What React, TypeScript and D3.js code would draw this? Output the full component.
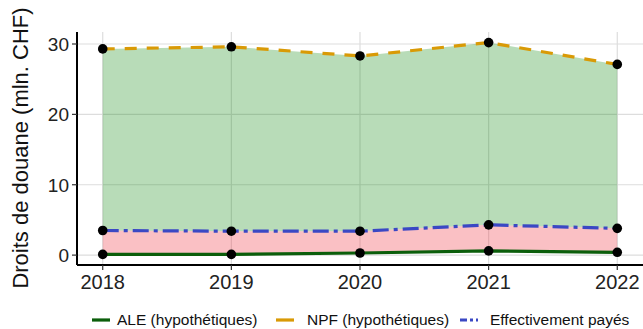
import React from "react";
import * as d3 from "d3";

const years = [2018, 2019, 2020, 2021, 2022];
const ale = [0.1, 0.1, 0.3, 0.6, 0.4];
const npf = [29.3, 29.6, 28.3, 30.2, 27.1];
const paid = [3.5, 3.4, 3.4, 4.3, 3.8];
const yTicks = [0, 10, 20, 30];
const legendLabels = ["ALE (hypothétiques)", "NPF (hypothétiques)", "Effectivement payés"];

const W = 643;
const H = 329;
const FONT = "'Liberation Sans', Arial, sans-serif";

export default function App() {
  const left = 77;
  const right = 643;
  const top = 32;
  const bottom = 265;

  const x = d3.scaleLinear().domain([2017.8, 2022.2]).range([left, right]);
  const yMin = d3.min(ale)!;
  const yMax = d3.max(npf)!;
  const pad = (yMax - yMin) * 0.05;
  const y = d3.scaleLinear().domain([yMin - pad, yMax + pad]).range([bottom, top]);

  const idx = years.map((_, i) => i);
  const areaGreen = d3
    .area<number>()
    .x((i) => x(years[i]))
    .y0((i) => y(paid[i]))
    .y1((i) => y(npf[i]))(idx)!;
  const areaPink = d3
    .area<number>()
    .x((i) => x(years[i]))
    .y0((i) => y(ale[i]))
    .y1((i) => y(paid[i]))(idx)!;
  const line = (vals: number[]) =>
    d3
      .line<number>()
      .x((i) => x(years[i]))
      .y((i) => y(vals[i]))(idx)!;

  const series = [
    { vals: ale, color: "#0b5e0b", dash: "none" },
    { vals: npf, color: "#d99a06", dash: "12 10" },
    { vals: paid, color: "#3a48c4", dash: "16 5 4 5" },
  ];

  const legendItems = [
    { sx: 92, tx: 117, color: "#0b5e0b", dash: "none" },
    { sx: 276, tx: 307, color: "#d99a06", dash: "none" },
    { sx: 460, tx: 490, color: "#3a48c4", dash: "7 3 3 3" },
  ];

  return (
    <svg width={W} height={H} style={{ position: "absolute", left: 0, top: 0, background: "#fff" }}>
      {years.map((yr) => (
        <line key={"gx" + yr} x1={x(yr)} x2={x(yr)} y1={top} y2={bottom} stroke="#dddddd" strokeWidth={1.2} />
      ))}
      {yTicks.map((t) => (
        <line key={"gy" + t} x1={left} x2={right} y1={y(t)} y2={y(t)} stroke="#dddddd" strokeWidth={1.2} />
      ))}
      <path d={areaGreen} fill="rgb(0,128,0)" fillOpacity={0.28} />
      <path d={areaPink} fill="rgb(240,60,70)" fillOpacity={0.32} />
      {series.map((s, k) => (
        <path key={"l" + k} d={line(s.vals)} fill="none" stroke={s.color} strokeWidth={3.2} strokeDasharray={s.dash} />
      ))}
      {series.map((s, k) =>
        s.vals.map((v, i) => <circle key={"p" + k + i} cx={x(years[i])} cy={y(v)} r={4.8} fill="#000" />)
      )}
      <line x1={left} x2={left} y1={top} y2={bottom} stroke="#000" strokeWidth={2} />
      <line x1={left} x2={right} y1={bottom} y2={bottom} stroke="#000" strokeWidth={2} />
      {yTicks.map((t) => (
        <g key={"yt" + t}>
          <line x1={left - 5} x2={left} y1={y(t)} y2={y(t)} stroke="#333" strokeWidth={1.2} />
          <text x={left - 8} y={y(t)} dy="0.36em" textAnchor="end" fontFamily={FONT} fontSize={19} fill="#222">
            {t}
          </text>
        </g>
      ))}
      {years.map((yr) => (
        <g key={"xt" + yr}>
          <line x1={x(yr)} x2={x(yr)} y1={bottom} y2={bottom + 5} stroke="#333" strokeWidth={1.2} />
          <text x={x(yr)} y={bottom + 24} textAnchor="middle" fontFamily={FONT} fontSize={20} fill="#222">
            {yr}
          </text>
        </g>
      ))}
      <text
        transform={`translate(28,148) rotate(-90)`}
        textAnchor="middle"
        fontFamily={FONT}
        fontSize={22}
        fill="#111"
      >
        Droits de douane (mln. CHF)
      </text>
      {legendItems.map((it, k) => (
        <g key={"lg" + k}>
          <line x1={it.sx} x2={it.sx + 18} y1={320} y2={320} stroke={it.color} strokeWidth={3.2} strokeDasharray={it.dash} />
          <text x={it.tx} y={320} dy="0.35em" fontFamily={FONT} fontSize={15.5} fill="#111">
            {legendLabels[k]}
          </text>
        </g>
      ))}
    </svg>
  );
}
